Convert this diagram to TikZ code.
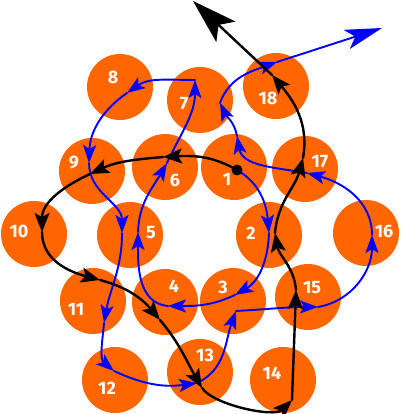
\documentclass[tikz,border=0pt]{standalone}
\usepackage{fontspec}
\setmainfont{Fira Sans}
\usetikzlibrary{arrows.meta}
\definecolor{ball}{RGB}{255,102,0}
\begin{document}
\begin{tikzpicture}[x=1pt,y=1pt,
  ballnode/.style={circle,fill=ball,minimum size=66pt,inner sep=0pt},
  numlabel/.style={text=white,font=\fontsize{18}{18}\selectfont\bfseries,inner sep=0pt},
  blk/.style={line width=2.4pt,black,line cap=round,-{Stealth[length=19pt,width=15pt,inset=4pt]}},
  blu/.style={line width=1.9pt,blue,line cap=round,-{Stealth[length=18pt,width=13pt,inset=4pt]}},
  blkbig/.style={line width=2.4pt,black,line cap=round,-{Stealth[length=45pt,width=28pt,inset=10pt]}},
  blubig/.style={line width=1.9pt,blue,line cap=round,-{Stealth[length=37pt,width=20pt,inset=9pt]}},
  dotnode/.style={circle,fill=black,minimum size=11pt,inner sep=0pt}
]
\useasboundingbox (0,0) rectangle (400,414);
% balls
\node[ballnode] (c1) at (234,247) {};
\node[ballnode] (c2) at (269,179) {};
\node[ballnode] (c3) at (233,113) {};
\node[ballnode] (c4) at (165,112) {};
\node[ballnode] (c5) at (130,179) {};
\node[ballnode] (c6) at (165,247) {};
\node[ballnode] (c7) at (200,314) {};
\node[ballnode] (c8) at (120,327) {};
\node[ballnode] (c9) at (92,243) {};
\node[ballnode] (c10) at (34,180) {};
\node[ballnode] (c11) at (93,113) {};
\node[ballnode] (c12) at (115,34) {};
\node[ballnode] (c13) at (200,42) {};
\node[ballnode] (c14) at (283,34) {};
\node[ballnode] (c15) at (308,117) {};
\node[ballnode] (c16) at (366,181) {};
\node[ballnode] (c17) at (305,245) {};
\node[ballnode] (c18) at (276,328) {};
% labels
\node[numlabel] (n1) at (227,235) {1};
\node[numlabel] (n2) at (251,181) {2};
\node[numlabel] (n3) at (223,127) {3};
\node[numlabel] (n4) at (174,128) {4};
\node[numlabel] (n5) at (151,181) {5};
\node[numlabel] (n6) at (175,234) {6};
\node[numlabel] (n7) at (184,310) {7};
\node[numlabel] (n8) at (113,337) {8};
\node[numlabel] (n9) at (74,251) {9};
\node[numlabel] (n10) at (19,183) {10};
\node[numlabel] (n11) at (76,105) {11};
\node[numlabel] (n12) at (107,26) {12};
\node[numlabel] (n13) at (205,59) {13};
\node[numlabel] (n14) at (272,41) {14};
\node[numlabel] (n15) at (312,126) {15};
\node[numlabel] (n16) at (384,183) {16};
\node[numlabel] (n17) at (320,252) {17};
\node[numlabel] (n18) at (268,316) {18};
% knots of the black path
\coordinate (B0) at (237,244);
\coordinate (B1) at (163,257);
\coordinate (B2) at (90,240);
\coordinate (B3) at (42,182);
\coordinate (B4) at (100,134);
\coordinate (B5) at (160,94);
\coordinate (B6) at (202,26);
\coordinate (B7) at (292,14);
\coordinate (B8) at (296,124);
\coordinate (B9) at (275,181);
\coordinate (B10) at (303,256);
\coordinate (B11) at (272,339);
\coordinate (B12) at (193,413);
% knots of the blue path
\coordinate (C0) at (237,244);
\coordinate (C1) at (269,181);
\coordinate (C2) at (235,119);
\coordinate (C3) at (168,108);
\coordinate (C4) at (138,182);
\coordinate (C5) at (167,251);
\coordinate (C6) at (195,334);
\coordinate (C7) at (127,321);
\coordinate (C8) at (89,251);
\coordinate (C9) at (122,181);
\coordinate (C10) at (104,91);
\coordinate (C11) at (114,43);
\coordinate (C12) at (197,31);
\coordinate (C13) at (236,103);
\coordinate (C14) at (318,107);
\coordinate (C15) at (372,179);
\coordinate (C16) at (307,241);
\coordinate (C17) at (237,278);
\coordinate (C18) at (220,311);
\coordinate (C19) at (277,352);
\coordinate (C20) at (382,386);
% blue path
\draw[blu] (C0) to[out=-30,in=95] (C1);
\draw[blu] (C1) to[out=-92,in=30] (C2);
\draw[blu] (C2) to[out=205,in=0] (C3);
\draw[blu] (C3) to[out=175,in=-90] (C4);
\draw[blu] (C4) to[out=88,in=240] (C5);
\draw[blu] (C5) to[out=65,in=270] (C6);
\draw[blu] (C6) to[out=180,in=35] (C7);
\draw[blu] (C7) to[out=215,in=88] (C8);
\draw[blu] (C8) to[out=-90,in=90] (C9);
\draw[blu] (C9) to[out=-90,in=80] (C10);
\draw[blu] (C10) to[out=-95,in=140] (C11);
\draw[blu] (C11) to[out=-25,in=188] (C12);
\draw[blu] (C12) to[out=25,in=250] (C13);
\draw[blu] (C13) to[out=3,in=180] (C14);
\draw[blu] (C14) to[out=10,in=270] (C15);
\draw[blu] (C15) to[out=90,in=-15] (C16);
\draw[blu] (C16) to[out=170,in=-80] (C17);
\draw[blu] (C17) to[out=100,in=-65] (C18);
\draw[blu] (C18) to[out=70,in=200] (C19);
\draw[blubig] (C19) -- (C20);
% black path
\draw[blk] (B0) to[out=150,in=3] (B1);
\draw[blk] (B1) to[out=185,in=25] (B2);
\draw[blk] (B2) to[out=205,in=90] (B3);
\draw[blk] (B3) to[out=270,in=165] (B4);
\draw[blk] (B4) to[out=-15,in=130] (B5);
\draw[blk] (B5) to[out=-50,in=120] (B6);
\draw[blk] (B6) to[out=-55,in=225,out looseness=0.6,in looseness=0.7] (B7);
\draw[blk] (B7) to[out=88,in=268] (B8);
\draw[blk] (B8) to[out=95,in=280] (B9);
\draw[blk] (B9) to[out=85,in=255] (B10);
\draw[blk] (B10) to[out=80,in=310] (B11);
\draw[blkbig] (B11) -- (B12);
\node[dotnode] (start) at (B0) {};
\end{tikzpicture}
\end{document}
